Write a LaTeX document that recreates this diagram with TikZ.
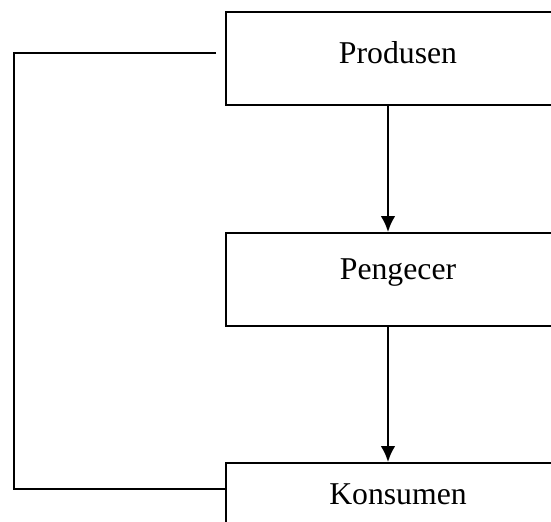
\documentclass[tikz,border=0pt]{standalone}
\usepackage{fontspec}
\setmainfont{Liberation Serif}
\usepackage{tikz}
\usetikzlibrary{shapes,arrows,positioning,calc,arrows.meta}

\tikzset{
    kotak/.style={draw, line width=1.5pt, minimum width=258pt, minimum height=69.75pt,
        text height=0pt, text depth=0pt, inner sep=0pt, font=\fontsize{23.8}{28}\selectfont},
    garis/.style={line width=1.5pt},
    panah/.style={line width=1.5pt, -{Latex[length=12pt, width=11pt]}}
}

\begin{document}
\begin{tikzpicture}[x=0.75pt, y=-0.75pt]
    \useasboundingbox (0,0) rectangle (551,522);

    \node[kotak, text height=6.8pt] (produsen) at (398,58.5) {Produsen};
    \node[kotak] (pengecer) at (398,279.5) {Pengecer};
    \node[kotak, text depth=6.8pt] (konsumen) at (398,509.5) {Konsumen};

    \draw[panah] ([xshift=-7.5pt]produsen.south) -- ([xshift=-7.5pt]pengecer.north);
    \draw[panah] ([xshift=-7.5pt]pengecer.south) -- ([xshift=-7.5pt]konsumen.north);

    \coordinate (ujung) at (216,53);
    \draw[garis] (ujung) -- (14,53) |- ([yshift=15.6pt]konsumen.west);
\end{tikzpicture}
\end{document}
